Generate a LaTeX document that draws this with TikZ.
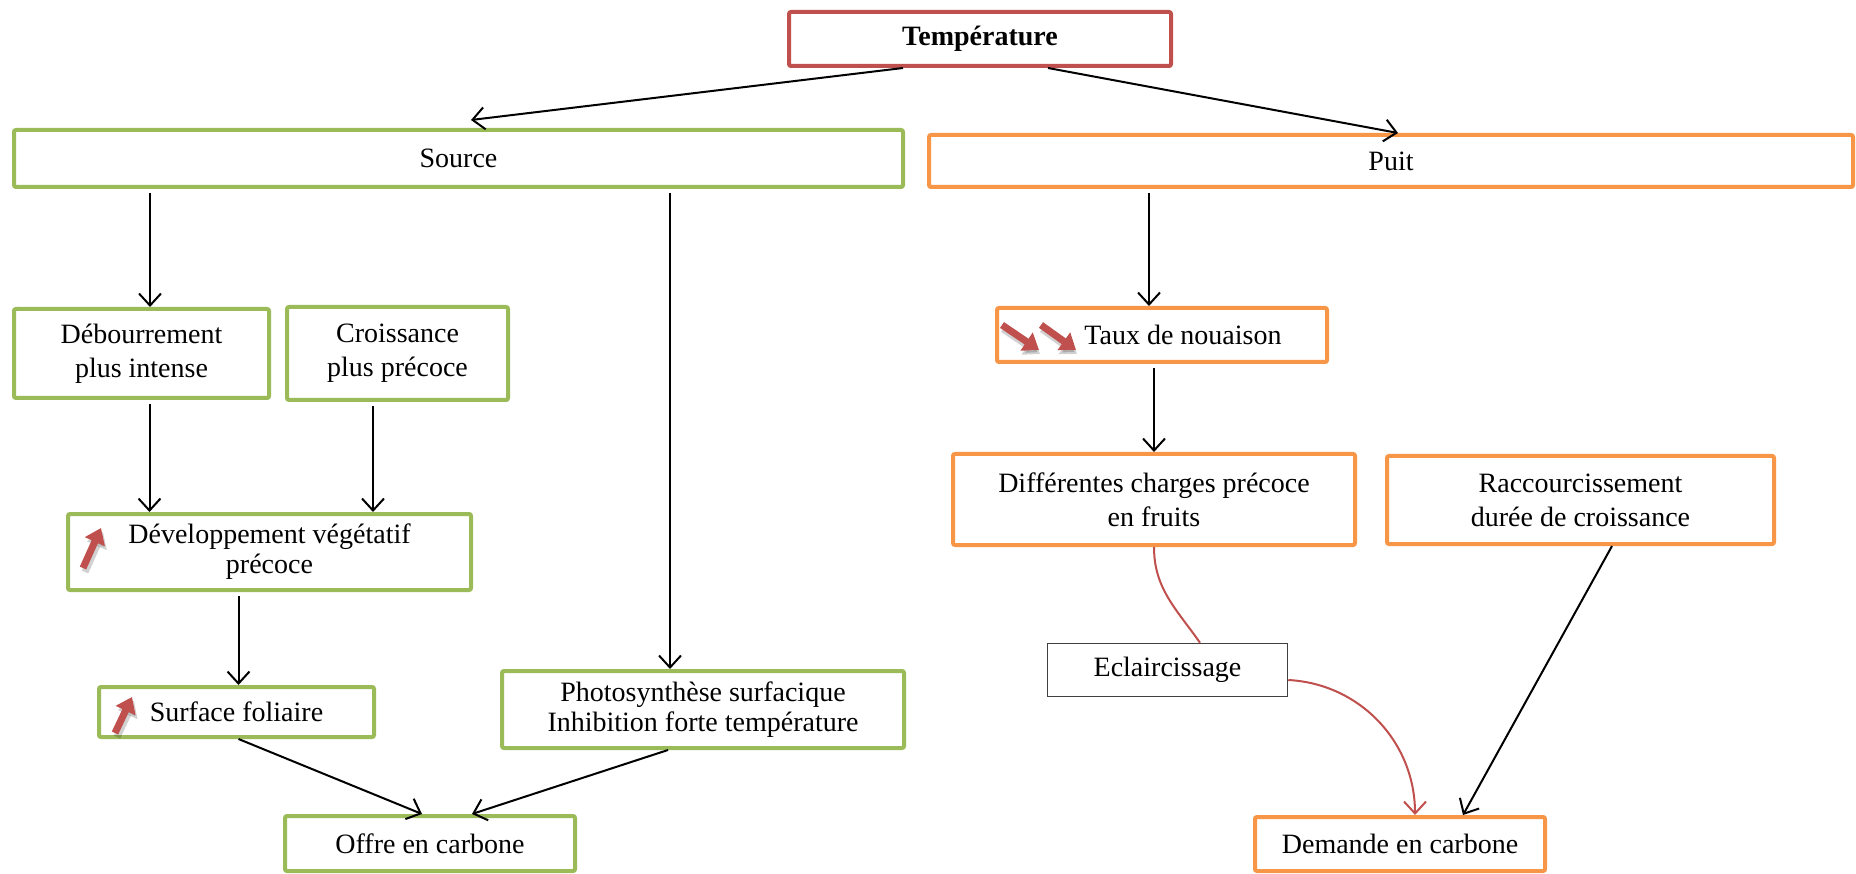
\documentclass[tikz,border=0pt]{standalone}
\usepackage{fontspec}
\setmainfont{Liberation Serif}
\usetikzlibrary{arrows.meta,calc}
\definecolor{tgreen}{HTML}{9BBB59}
\definecolor{torange}{HTML}{F79646}
\definecolor{tred}{HTML}{C0504D}
\definecolor{tgray}{HTML}{404040}
\begin{document}
\begin{tikzpicture}[x=1pt,y=-1pt,
  mybox/.style={draw, line width=4pt, rounded corners=2pt, inner sep=0pt, align=center,
    font=\fontsize{28}{34}\selectfont, fill=white},
  gbox/.style={mybox, draw=tgreen},
  obox/.style={mybox, draw=torange},
  rbox/.style={mybox, draw=tred},
  tight/.style={font=\fontsize{28}{30}\selectfont},
  arr/.style={line width=2pt, -{Straight Barb[length=12pt,width=22pt]}, shorten <=4pt},
  redarr/.style={arr, draw=tred},
  bump/.style={line width=7pt, draw=tred, -{Triangle[length=15pt,width=21pt]}},
  bumpshadow/.style={line width=7pt, draw=black, opacity=0.18, -{Triangle[length=15pt,width=21pt]}}
]
\useasboundingbox (0,0) rectangle (1856,874);
\fill[white] (0,0) rectangle (1856,874);

% nodes
\node[rbox, minimum width=382pt, minimum height=54pt, font=\bfseries\fontsize{28}{34}\selectfont] (temp) at (980,39) {Température};
\node[gbox, minimum width=889pt, minimum height=57pt] (source) at (458.5,158.5) {Source};
\node[obox, minimum width=924pt, minimum height=52pt] (puit) at (1391,161) {Puit};
\node[gbox, minimum width=255pt, minimum height=89pt] (deb) at (141.5,353.5) {Débourrement\\plus intense};
\node[gbox, minimum width=221pt, minimum height=93pt] (cro) at (397.5,353.5) {Croissance\\plus précoce};
\node[gbox, tight, minimum width=403pt, minimum height=76pt] (dev) at (269.5,552) {Développement végétatif\\précoce};
\node[gbox, minimum width=275pt, minimum height=50pt] (surf) at (236.5,712) {Surface foliaire};
\node[gbox, tight, minimum width=402pt, minimum height=77pt] (photo) at (703,709.5) {Photosynthèse surfacique\\Inhibition forte température};
\node[gbox, minimum width=290pt, minimum height=55pt] (offre) at (430,843.5) {Offre en carbone};
\node[obox, minimum width=330pt, minimum height=54pt] (taux) at (1162,335) {\hspace*{42pt}Taux de nouaison};
\node[obox, minimum width=402pt, minimum height=91pt] (diff) at (1154,499.5) {Différentes charges précoce\\en fruits};
\node[obox, minimum width=387pt, minimum height=88pt] (racc) at (1580.5,500) {Raccourcissement\\durée de croissance};
\node[mybox, draw=tgray, line width=1.5pt, rounded corners=0pt, minimum width=240pt, minimum height=53pt] (ecl) at (1167.5,670) {Eclaircissage};
\node[obox, minimum width=290pt, minimum height=54pt] (dem) at (1400,844) {Demande en carbone};

% helper coordinates
\coordinate (d1) at ([xshift=8.5pt]deb.north);
\coordinate (p1) at ([xshift=-33pt]photo.north);
\coordinate (d2) at ([xshift=-120pt]dev.north);
\coordinate (d3) at ([xshift=-24.5pt]cro.south);
\coordinate (d4) at ([xshift=2pt]surf.north);
\coordinate (t1) at ([xshift=-13pt]taux.north);
\coordinate (t2) at ([xshift=-8pt]taux.south);

% connectors
\draw[arr, shorten <=0pt] ([xshift=-77pt]temp.south) -- ([xshift=12.5pt,yshift=8pt]source.north);
\draw[arr, shorten <=0pt] ([xshift=68pt]temp.south) -- ([xshift=7pt]puit.north);
\draw[arr] (d1 |- source.south) -- (d1);
\draw[arr] (p1 |- source.south) -- (p1);
\draw[arr] (d2 |- deb.south) -- (d2);
\draw[arr] (d3) -- (d3 |- dev.north);
\draw[arr] (d4 |- dev.south) -- (d4);
\draw[arr, shorten <=0pt] ([xshift=2pt]surf.south) -- ([xshift=-8pt]offre.north);
\draw[arr, shorten <=0pt] ([xshift=-35pt]photo.south) -- ([xshift=42pt]offre.north);
\draw[arr] (t1 |- puit.south) -- (t1);
\draw[arr] (t2) -- (t2 |- diff.north);
\draw[tred, line width=2pt] (diff.south) to[out=-90, in=125] ([xshift=32.5pt]ecl.north);
\draw[redarr, shorten <=0pt] ([yshift=-10pt]ecl.east) to[out=-3, in=90] ([xshift=15pt]dem.north);
\draw[arr, shorten <=0pt] ([xshift=31.5pt]racc.south) -- ([xshift=63pt]dem.north);

% small red trend arrows
\draw[bumpshadow] (85,572) -- (103,532);
\draw[bump] (83,568) -- (101,528);
\draw[bumpshadow] (117,737) -- (134,701);
\draw[bump] (115,733) -- (132,697);
\draw[bumpshadow] (1003,329) -- (1040,354);
\draw[bump] (1002,325) -- (1039,350);
\draw[bumpshadow] (1042,329) -- (1077,354);
\draw[bump] (1041,325) -- (1076,350);
\end{tikzpicture}
\end{document}
